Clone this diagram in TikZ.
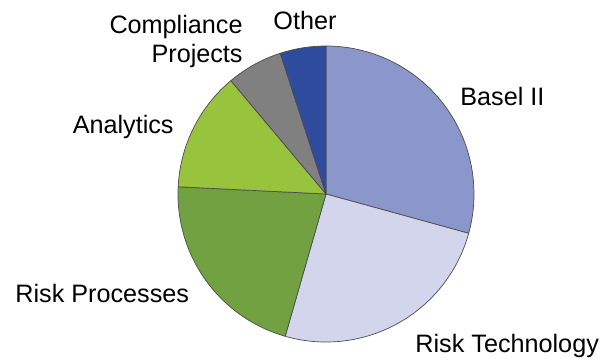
\documentclass[tikz,border=0pt]{standalone}
\usepackage{fontspec}
\setmainfont{Liberation Sans}
\definecolor{basel}{HTML}{8B97CB}
\definecolor{risktech}{HTML}{D2D5EC}
\definecolor{riskproc}{HTML}{71A140}
\definecolor{analytics}{HTML}{98C33C}
\definecolor{compliance}{HTML}{808080}
\definecolor{other}{HTML}{2E4B9E}
\tikzset{
  slice/.style={draw=black!70, line width=0.35pt, line join=round},
  lbl/.style={inner sep=0pt, font=\fontsize{12.6}{14.5}\selectfont}
}
\begin{document}
\begin{tikzpicture}[x=1pt,y=1pt]
      \useasboundingbox (-163,-83) rectangle (141,97);
      \filldraw[slice,fill=basel] (0,0) -- (344.6:74) arc (344.6:450:74) -- cycle;
      \filldraw[slice,fill=risktech] (0,0) -- (254:74) arc (254:344.6:74) -- cycle;
      \filldraw[slice,fill=riskproc] (0,0) -- (177.2:74) arc (177.2:254:74) -- cycle;
      \filldraw[slice,fill=analytics] (0,0) -- (130:74) arc (130:177.2:74) -- cycle;
      \filldraw[slice,fill=compliance] (0,0) -- (108:74) arc (108:130:74) -- cycle;
      \filldraw[slice,fill=other] (0,0) -- (90:74) arc (90:108:74) -- cycle;
      \node[lbl,anchor=base west] (basel) at (67,44.5) {Basel II};
      \node[lbl,anchor=base west] (tech) at (44.5,-79) {Risk Technology};
      \node[lbl,anchor=base west] (proc) at (-155.5,-54) {Risk Processes};
      \node[lbl,anchor=base east] (ana) at (-76,30.5) {Analytics};
      \node[lbl,anchor=base east,align=right] (comp) at (-41.5,66) {Compliance\\Projects};
      \node[lbl,anchor=base west] (oth) at (-26.5,82.5) {Other};
    \end{tikzpicture}
\end{document}
